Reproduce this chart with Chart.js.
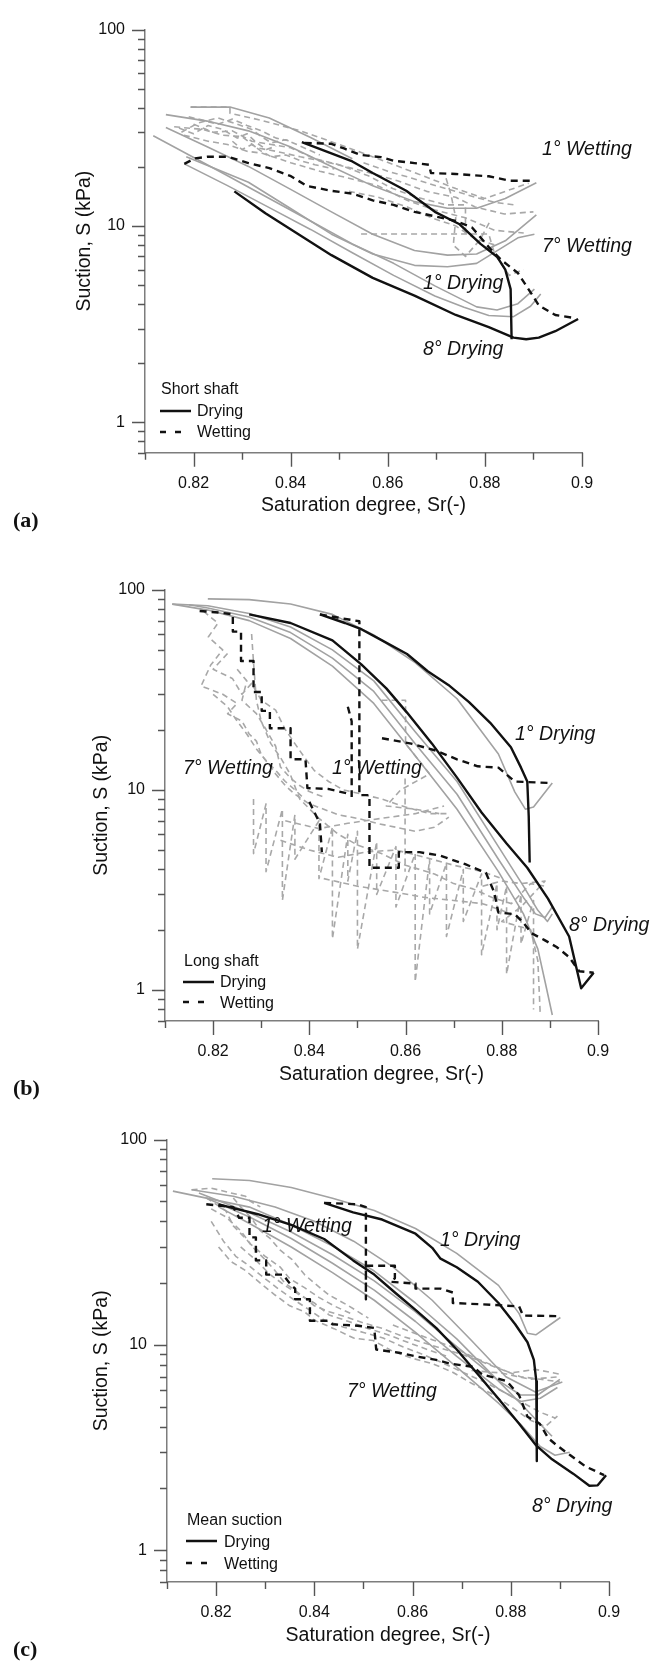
<!DOCTYPE html>
<html>
<head>
<meta charset="utf-8">
<script src="https://cdn.jsdelivr.net/npm/chart.js@4.4.1/dist/chart.umd.min.js"></script>
<style>
  html,body{margin:0;padding:0;background:#fff;}
  #page{position:relative;width:650px;height:1668px;overflow:hidden;background:#fff;font-family:"Liberation Sans",Arial,sans-serif;color:#111;}
  canvas{position:absolute;left:0;}
  .ann{position:absolute;font-style:italic;font-size:19.5px;white-space:nowrap;transform:translateY(-50%);color:#111;}
  .leg{position:absolute;font-size:16px;white-space:nowrap;transform:translateY(-50%);color:#111;}
  .sample{position:absolute;width:32px;height:6px;transform:translateY(-50%);}
  .plab{position:absolute;font-family:"Liberation Serif","DejaVu Serif",serif;font-weight:bold;font-size:22px;transform:translateY(-50%);color:#111;}
</style>
</head>
<body>
<div id="page">
  <canvas id="ca" width="650" height="530" style="top:0px"></canvas>
  <canvas id="cb" width="650" height="540" style="top:560px"></canvas>
  <canvas id="cc" width="650" height="558" style="top:1110px"></canvas>

  <!-- panel a -->
  <div class="ann" style="left:542px;top:148px">1° Wetting</div>
  <div class="ann" style="left:542px;top:245px">7° Wetting</div>
  <div class="ann" style="left:423px;top:282px">1° Drying</div>
  <div class="ann" style="left:423px;top:348px">8° Drying</div>
  <div class="leg" style="left:161px;top:389px">Short shaft</div>
  <svg class="sample" style="left:160px;top:411px" viewBox="0 0 32 6"><line x1="0" y1="3" x2="31" y2="3" stroke="#111" stroke-width="2.5"/></svg>
  <div class="leg" style="left:197px;top:411px">Drying</div>
  <svg class="sample" style="left:160px;top:432px" viewBox="0 0 32 6"><line x1="0" y1="3" x2="22" y2="3" stroke="#111" stroke-width="2.5" stroke-dasharray="6,9"/></svg>
  <div class="leg" style="left:197px;top:432px">Wetting</div>
  <div class="plab" style="left:13px;top:520px">(a)</div>

  <!-- panel b -->
  <div class="ann" style="left:515px;top:733px">1° Drying</div>
  <div class="ann" style="left:183px;top:767px">7° Wetting</div>
  <div class="ann" style="left:332px;top:767px">1° Wetting</div>
  <div class="ann" style="left:569px;top:924px">8° Drying</div>
  <div class="leg" style="left:184px;top:961px">Long shaft</div>
  <svg class="sample" style="left:183px;top:982px" viewBox="0 0 32 6"><line x1="0" y1="3" x2="31" y2="3" stroke="#111" stroke-width="2.5"/></svg>
  <div class="leg" style="left:220px;top:982px">Drying</div>
  <svg class="sample" style="left:183px;top:1002px" viewBox="0 0 32 6"><line x1="0" y1="3" x2="22" y2="3" stroke="#111" stroke-width="2.5" stroke-dasharray="6,9"/></svg>
  <div class="leg" style="left:220px;top:1003px">Wetting</div>
  <div class="plab" style="left:13px;top:1088px">(b)</div>

  <!-- panel c -->
  <div class="ann" style="left:262px;top:1225px">1° Wetting</div>
  <div class="ann" style="left:440px;top:1239px">1° Drying</div>
  <div class="ann" style="left:347px;top:1390px">7° Wetting</div>
  <div class="ann" style="left:532px;top:1505px">8° Drying</div>
  <div class="leg" style="left:187px;top:1520px">Mean suction</div>
  <svg class="sample" style="left:186px;top:1541px" viewBox="0 0 32 6"><line x1="0" y1="3" x2="31" y2="3" stroke="#111" stroke-width="2.5"/></svg>
  <div class="leg" style="left:224px;top:1542px">Drying</div>
  <svg class="sample" style="left:186px;top:1563px" viewBox="0 0 32 6"><line x1="0" y1="3" x2="22" y2="3" stroke="#111" stroke-width="2.5" stroke-dasharray="6,9"/></svg>
  <div class="leg" style="left:224px;top:1564px">Wetting</div>
  <div class="plab" style="left:13px;top:1649px">(c)</div>
</div>
<script>
// ---------- ticks ----------
const xTickVals = [0.81,0.82,0.83,0.84,0.85,0.86,0.87,0.88,0.89,0.9];
const xTickLabels = ['','0.82','','0.84','','0.86','','0.88','','0.9'];
const yTickVals = [0.7,0.8,0.9,1,2,3,4,5,6,7,8,9,10,20,30,40,50,60,70,80,90,100];
const yMajorVals = [1,10,100];

// ---------- panel (a) short shaft: [Sr, S kPa] ----------
const aDrying1 = [[0.8423,26.7],[0.8527,21.3],[0.8569,18.6],[0.8638,15.1],[0.8697,11.8],[0.8748,10.2],[0.8791,8.1],[0.8825,6.97],[0.8842,5.99],[0.8853,4.77],[0.8855,2.65]];
const aDrying8 = [[0.8284,15.0],[0.8348,11.6],[0.8416,9.08],[0.8484,7.10],[0.8569,5.44],[0.8655,4.42],[0.8740,3.52],[0.8808,3.05],[0.8859,2.70],[0.8885,2.65],[0.8911,2.70],[0.8945,2.91],[0.8992,3.36]];
const aWetting1 = [[0.8429,26.5],[0.8484,26.2],[0.8510,24.8],[0.8544,23.0],[0.8586,22.4],[0.8612,21.5],[0.8655,20.9],[0.8685,20.5],[0.8689,18.6],[0.8740,18.4],[0.8808,17.9],[0.8851,17.0],[0.8902,17.0]];
const aWetting7 = [[0.8181,20.7],[0.8203,22.1],[0.8228,22.5],[0.8271,22.5],[0.8313,20.9],[0.8356,19.7],[0.8399,18.0],[0.8433,16.0],[0.8484,15.1],[0.8527,14.6],[0.8569,13.5],[0.8612,12.8],[0.8655,11.8],[0.8697,11.2],[0.8740,10.6],[0.8774,9.8],[0.8808,7.8],[0.8834,6.7],[0.8868,5.76],[0.8894,4.59],[0.8911,3.94],[0.8945,3.52],[0.8987,3.39]];
const aGrayDry = [
  [[0.8143,36.9],[0.8228,34.2],[0.8313,30.5],[0.8399,25.3],[0.8484,20.1],[0.8569,16.0],[0.8655,13.3],[0.8723,12.3],[0.8783,12.3],[0.8842,13.8],[0.8906,16.6]],
  [[0.8194,40.3],[0.8275,40.3],[0.8356,35.5],[0.8441,28.2],[0.8527,22.0]],
  [[0.8143,31.7],[0.8228,25.3],[0.8313,20.1],[0.8399,15.4],[0.8484,11.8],[0.8569,9.08],[0.8655,7.5],[0.8723,7.1],[0.8783,7.2],[0.8842,8.4],[0.8906,11.4]],
  [[0.8185,22.5],[0.8313,16.7],[0.8399,12.3],[0.8484,9.08],[0.8569,7.2],[0.8655,6.3],[0.8723,6.2],[0.8783,6.45],[0.8868,8.7],[0.8902,9.08]],
  [[0.8117,28.8],[0.8185,23.4],[0.8271,17.96],[0.8356,13.8],[0.8441,10.6],[0.8527,8.1],[0.8612,6.45],[0.8697,4.95],[0.8783,3.87],[0.8825,3.73],[0.8868,4.02],[0.8902,4.77]],
  [[0.8181,20.7],[0.8271,16.0],[0.8356,12.4],[0.8441,9.6],[0.8527,7.3],[0.8612,5.6],[0.8697,4.4],[0.8757,3.85],[0.8808,3.5],[0.8859,3.45],[0.8894,3.9],[0.8915,4.5]]
];
const aGrayWet = [
  [[0.8194,40.3],[0.8275,40.3],[0.8275,37.5],[0.8340,34.5],[0.8420,30.5],[0.8500,26.0],[0.8580,22.0],[0.8660,18.5],[0.8740,15.5],[0.8800,13.8],[0.8890,16.5]],
  [[0.8160,32.0],[0.8220,31.0],[0.8260,29.0],[0.8300,28.5],[0.8330,25.0],[0.8370,24.0],[0.8420,22.5],[0.8480,21.0],[0.8550,19.0],[0.8620,17.0],[0.8680,15.0],[0.8740,14.0],[0.8780,12.5],[0.8840,11.5],[0.8900,11.8]],
  [[0.8180,29.0],[0.8230,27.0],[0.8270,26.0],[0.8310,24.0],[0.8340,23.5],[0.8400,21.0],[0.8460,19.0],[0.8520,17.5],[0.8580,16.0],[0.8640,13.5],[0.8700,12.0],[0.8760,11.0],[0.8820,9.5],[0.8880,9.2]],
  [[0.8200,33.0],[0.8240,30.0],[0.8280,30.5],[0.8320,27.0],[0.8360,26.0],[0.8400,25.0],[0.8450,22.0],[0.8500,20.5],[0.8560,18.0],[0.8610,15.5],[0.8660,14.0],[0.8720,12.8],[0.8760,12.8],[0.8760,8.8]],
  [[0.8545,9.1],[0.8808,9.1],[0.8820,7.2],[0.8850,5.6],[0.8880,6.0]],
  [[0.8175,30.0],[0.8210,33.5],[0.8250,35.5],[0.8290,33.0],[0.8320,31.0],[0.8340,28.5],[0.8360,26.5],[0.8390,27.5],[0.8420,25.5],[0.8460,23.0]],
  [[0.8720,17.5],[0.8730,14.5],[0.8740,11.0],[0.8735,8.0],[0.8760,7.0],[0.8790,8.5],[0.8810,10.5]],
  [[0.8170,31.5],[0.8200,29.5],[0.8230,32.5],[0.8260,31.0],[0.8290,28.0],[0.8310,29.5],[0.8330,26.5],[0.8350,24.5],[0.8370,25.5]],
  [[0.8190,36.0],[0.8220,34.5],[0.8250,33.0],[0.8280,35.0],[0.8310,32.5],[0.8340,30.5],[0.8370,28.0],[0.8400,27.0]],
  [[0.8280,27.0],[0.8300,24.5],[0.8320,26.0],[0.8340,24.0],[0.8360,22.5],[0.8390,23.0],[0.8420,21.5],[0.8450,20.5],[0.8490,19.5]],
  [[0.8550,21.0],[0.8600,19.0],[0.8650,17.5],[0.8700,16.0],[0.8740,15.0],[0.8780,14.0],[0.8820,13.2],[0.8860,12.8]],
  [[0.8520,15.0],[0.8580,14.0],[0.8640,12.5],[0.8690,11.0],[0.8740,10.0],[0.8780,8.6],[0.8820,8.0]]
];

// ---------- panel (b) long shaft ----------
const bDrying1 = [[0.8422,75.2],[0.8474,68.1],[0.8508,63.4],[0.8551,55.8],[0.8603,47.7],[0.8646,39.1],[0.8689,33.4],[0.8732,27.4],[0.8776,21.6],[0.8819,16.3],[0.8840,12.9],[0.8853,11.0],[0.8856,7.4],[0.8858,4.33]];
const bDrying8 = [[0.8275,75.2],[0.8361,68.1],[0.8448,55.8],[0.8508,42.3],[0.8560,32.1],[0.8603,24.3],[0.8655,17.0],[0.8707,11.5],[0.8758,7.7],[0.8810,5.39],[0.8853,4.08],[0.8896,2.86],[0.8940,1.85],[0.8965,1.02],[0.8991,1.22]];
const bWetting1 = [[0.8422,75.2],[0.8482,70.9],[0.8504,69.5],[0.8504,24.3],[0.8504,9.4],[0.8525,9.4],[0.8525,4.08],[0.8586,4.08],[0.8586,4.88],[0.8629,4.88],[0.8672,4.69],[0.8724,4.25],[0.8767,3.85],[0.8784,3.09],[0.8793,2.44],[0.8827,2.39],[0.8845,2.17],[0.8862,1.92],[0.8888,1.78],[0.8914,1.64],[0.8940,1.46],[0.8961,1.24],[0.8991,1.22]];
const bWetting1b = [[0.8551,18.1],[0.8612,17.0],[0.8663,15.7],[0.8707,14.2],[0.8750,13.1],[0.8793,12.9],[0.8827,11.0],[0.8905,10.8]];
const bWetting1c = [[0.8480,26.0],[0.8488,22.0],[0.8488,9.2]];
const bWetting7 = [[0.8172,78.2],[0.8215,76.7],[0.8241,75.2],[0.8241,61.7],[0.8258,61.7],[0.8258,44.0],[0.8284,44.0],[0.8284,30.8],[0.8301,30.8],[0.8301,24.8],[0.8318,24.8],[0.8318,20.3],[0.8361,20.3],[0.8361,14.2],[0.8392,14.2],[0.8396,10.2],[0.8439,10.1],[0.8478,9.6]];
const bWetting7b = [[0.8400,8.7],[0.8422,6.8],[0.8426,4.88]];
const bGrayDry = [
  [[0.8189,89.9],[0.8275,89.1],[0.8361,84.7],[0.8448,75.2],[0.8534,59.3],[0.8620,43.2],[0.8707,28.5],[0.8793,15.1],[0.8827,9.77],[0.8849,8.0],[0.8866,8.2],[0.8905,10.8]],
  [[0.8115,84.6],[0.8189,83],[0.8275,76],[0.8361,65],[0.8448,50],[0.8534,35],[0.8620,19.5],[0.8707,11],[0.8793,5.2],[0.8845,3.3],[0.8875,2.5],[0.8895,2.2],[0.8905,2.4]],
  [[0.8150,84],[0.8189,81],[0.8275,73],[0.8361,61],[0.8448,45.5],[0.8534,31],[0.8620,17],[0.8707,9.5],[0.8793,4.5],[0.8845,2.9],[0.8870,2.4],[0.8890,2.3],[0.8905,2.6]],
  [[0.8115,84.6],[0.8189,79],[0.8275,70],[0.8361,57],[0.8448,41.5],[0.8534,27],[0.8620,14.8],[0.8707,8],[0.8793,3.9],[0.8845,2.4],[0.8875,1.6],[0.8890,1.1],[0.8905,0.75]]
];
const bGrayWet = [
  [[0.8284,9],[0.8284,4.8],[0.8310,8.5],[0.8310,3.9],[0.8344,8],[0.8344,2.8],[0.8370,7.5],[0.8370,4.5],[0.8420,7],[0.8420,3.6],[0.8448,6.5],[0.8448,1.8],[0.8480,6],[0.8480,3.5],[0.8500,6.2],[0.8500,1.6],[0.8540,5.5],[0.8540,3.0],[0.8580,5.2],[0.8580,2.6],[0.8620,4.8],[0.8620,1.1],[0.8650,4.5],[0.8650,2.4],[0.8685,4.3],[0.8685,1.85],[0.8720,4.0],[0.8720,2.2],[0.8758,3.8],[0.8758,1.5],[0.8790,3.4],[0.8790,2.0],[0.8810,3.3],[0.8810,1.2],[0.8840,3.0],[0.8840,1.7],[0.8866,2.8],[0.8866,0.8]],
  [[0.8180,78],[0.8210,68],[0.8190,58],[0.8220,50],[0.8195,42],[0.8175,33],[0.8220,30],[0.8250,27],[0.8230,24],[0.8260,22],[0.8275,19],[0.8290,17.5],[0.8300,15],[0.8320,13],[0.8330,12],[0.8350,10.5],[0.8370,9.5],[0.8400,8.5],[0.8430,8],[0.8460,7.5],[0.8500,7.2],[0.8540,6.8],[0.8580,6.5],[0.8620,6.2],[0.8660,6.5],[0.8690,7.3]],
  [[0.8280,60],[0.8285,40],[0.8290,28],[0.8300,22],[0.8320,17],[0.8340,14.5],[0.8360,12],[0.8380,9],[0.8420,7.2],[0.8460,6],[0.8500,5.3],[0.8550,4.8],[0.8600,4.2],[0.8660,3.8],[0.8700,3.4],[0.8740,3.2],[0.8780,2.9],[0.8820,2.7],[0.8860,3.4],[0.8890,3.3]],
  [[0.8550,28],[0.8600,28],[0.8600,17],[0.8650,12],[0.8590,10],[0.8560,8.3],[0.8620,8.0],[0.8670,7.6]],
  [[0.8599,11.4],[0.8599,3.9]],
  [[0.8230,48],[0.8200,40],[0.8240,36],[0.8260,30],[0.8280,34],[0.8300,28],[0.8330,25],[0.8350,20],[0.8370,17],[0.8390,14.5],[0.8410,12.5],[0.8440,11],[0.8470,10],[0.8510,9.5],[0.8550,9],[0.8600,8.2],[0.8650,7.6],[0.8690,7.6]],
  [[0.8760,3.3],[0.8800,3.5],[0.8840,3.4],[0.8890,3.5],[0.8840,2.6],[0.8800,2.2],[0.8860,2.0],[0.8875,1.4],[0.8880,0.75]],
  [[0.8350,7.0],[0.8420,6.4],[0.8480,6.8],[0.8550,7.2],[0.8620,7.6],[0.8680,8.3]],
  [[0.8340,5.6],[0.8400,5.0],[0.8460,4.6],[0.8520,4.9],[0.8580,5.0],[0.8640,4.6],[0.8700,4.2],[0.8760,3.9],[0.8800,3.6]],
  [[0.8430,3.6],[0.8500,3.3],[0.8570,3.1],[0.8640,2.9],[0.8700,2.8],[0.8760,2.7],[0.8820,2.4]],
  [[0.8200,30],[0.8230,26],[0.8250,22],[0.8270,19],[0.8290,16],[0.8310,14],[0.8330,12.5],[0.8350,11],[0.8370,10],[0.8390,9]],
  [[0.8250,40],[0.8270,35],[0.8260,28],[0.8290,24],[0.8310,20],[0.8330,16.5],[0.8340,13],[0.8360,11.5],[0.8380,10.5],[0.8400,9.8],[0.8430,9.2]]
];

// ---------- panel (c) mean suction ----------
const cDrying1 = [[0.8420,49.2],[0.8479,44.2],[0.8538,40.8],[0.8606,34.8],[0.8640,29.7],[0.8657,26.3],[0.8690,23.9],[0.8733,20.3],[0.8775,16.0],[0.8809,12.6],[0.8834,10.3],[0.8847,8.46],[0.8852,6.66],[0.8853,2.72]];
const cDrying8 = [[0.8205,48.4],[0.8285,43.3],[0.8353,38.4],[0.8420,32.8],[0.8479,25.8],[0.8522,22.0],[0.8564,18.0],[0.8606,14.8],[0.8648,12.1],[0.8690,9.5],[0.8733,7.2],[0.8775,5.46],[0.8817,4.13],[0.8851,3.25],[0.8884,2.77],[0.8927,2.36],[0.8960,2.06],[0.8977,2.07],[0.8994,2.32]];
const cWetting1 = [[0.8420,49.2],[0.8488,48.4],[0.8505,46.9],[0.8505,16.7],[0.8505,24.3],[0.8564,24.3],[0.8564,21.1],[0.8555,20.3],[0.8606,19.9],[0.8606,18.8],[0.8657,18.8],[0.8682,18.0],[0.8682,16.0],[0.8758,15.7],[0.8817,15.4],[0.8825,13.9],[0.8901,13.8]];
const cWetting7 = [[0.8180,48.4],[0.8235,46.9],[0.8247,41.6],[0.8268,41.6],[0.8268,33.4],[0.8281,33.4],[0.8281,25.8],[0.8302,25.8],[0.8302,22.0],[0.8336,22.0],[0.8353,19.5],[0.8361,18.8],[0.8361,16.7],[0.8391,16.7],[0.8391,13.1],[0.8429,13.1],[0.8437,12.6],[0.8488,12.4],[0.8522,12.1],[0.8526,9.5],[0.8572,9.16],[0.8606,8.8],[0.8648,8.46],[0.8674,8.13],[0.8724,7.81],[0.8741,7.2],[0.8792,6.66],[0.8817,5.68],[0.8834,4.47],[0.8859,4.13],[0.8876,3.52],[0.8893,3.25],[0.8922,2.89],[0.8952,2.56],[0.8990,2.32]];
const cGrayDry = [
  [[0.8192,64.5],[0.8268,63.2],[0.8353,58.4],[0.8437,51.8],[0.8522,45.1],[0.8606,36.9],[0.8690,27.9],[0.8775,19.5],[0.8817,14.2],[0.8834,11.4],[0.8851,11.2],[0.8901,13.6]],
  [[0.8112,56.1],[0.8268,46.9],[0.8353,38.4],[0.8437,30.3],[0.8522,22.9],[0.8606,16.0],[0.8690,10.7],[0.8775,6.66],[0.8825,5.04],[0.8859,4.13],[0.8884,3.59]],
  [[0.8165,55],[0.8268,44],[0.8353,35.5],[0.8437,27.5],[0.8522,20.5],[0.8606,14.5],[0.8690,9.8],[0.8775,6.7],[0.8820,5.7],[0.8855,5.7],[0.8900,6.8]],
  [[0.8180,52],[0.8268,42],[0.8353,33],[0.8437,25],[0.8522,18.5],[0.8606,13],[0.8690,8.8],[0.8775,6.1],[0.8820,5.3],[0.8860,5.5],[0.8895,6.2]],
  [[0.8205,47],[0.8268,39],[0.8353,30],[0.8437,22.5],[0.8522,16.5],[0.8606,11.5],[0.8690,7.8],[0.8775,5.2],[0.8820,4.1],[0.8860,3.2],[0.8890,2.9],[0.8920,3.0]],
  [[0.8150,57],[0.8235,53],[0.8320,47],[0.8400,40],[0.8480,32],[0.8560,24],[0.8640,16.5],[0.8720,10.5],[0.8790,7.0],[0.8850,5.9],[0.8905,6.6]]
];
const cGrayWet = [
  [[0.8180,52],[0.8220,45],[0.8235,38],[0.8260,33],[0.8280,29],[0.8300,26],[0.8320,23],[0.8340,20],[0.8360,18.5],[0.8380,17],[0.8400,15.5],[0.8430,14.5],[0.8460,13.8],[0.8500,12.8],[0.8540,12],[0.8580,11],[0.8620,10.3],[0.8660,9.6],[0.8700,9],[0.8740,8.3],[0.8780,7.6],[0.8820,7],[0.8860,6.8],[0.8900,6.6]],
  [[0.8190,40],[0.8215,32],[0.8240,27],[0.8270,24],[0.8300,21],[0.8330,18.5],[0.8360,16.5],[0.8390,14.8],[0.8420,13.2],[0.8460,12.2],[0.8500,11.5],[0.8540,10.8],[0.8580,9.8],[0.8620,9],[0.8660,8.2],[0.8700,7.4],[0.8740,6.7],[0.8780,6],[0.8820,5.3],[0.8860,4.7],[0.8890,4.4]],
  [[0.8205,30],[0.8230,25.5],[0.8260,23],[0.8290,20],[0.8320,17.5],[0.8350,15.5],[0.8380,14.5],[0.8400,13.2],[0.8440,12],[0.8480,10.8],[0.8520,10.5],[0.8560,9.3],[0.8600,8.6],[0.8640,8.1],[0.8680,7.4],[0.8720,6.5],[0.8760,5.8],[0.8800,5],[0.8840,4.3],[0.8870,4.0],[0.8895,4.5]],
  [[0.8235,52],[0.8250,47],[0.8270,42],[0.8290,36],[0.8310,33],[0.8330,29],[0.8355,26],[0.8380,22],[0.8400,20],[0.8430,17.5],[0.8470,15.5],[0.8510,13.5]],
  [[0.8720,7.5],[0.8780,7.3],[0.8840,6.8],[0.8900,7.0]],
  [[0.8150,57],[0.8190,58],[0.8230,55],[0.8260,53],[0.8270,50],[0.8290,47]],
  [[0.8190,46],[0.8220,42],[0.8250,36],[0.8270,31],[0.8300,27],[0.8330,24],[0.8350,21],[0.8380,19],[0.8410,17],[0.8440,15.5],[0.8480,14]],
  [[0.8250,30],[0.8280,26],[0.8310,22],[0.8340,19.5],[0.8370,17.5],[0.8400,16],[0.8430,14],[0.8470,13],[0.8510,12],[0.8550,11.2],[0.8590,10.3],[0.8630,9.5],[0.8670,8.8]],
  [[0.8560,12.5],[0.8600,11.5],[0.8640,10.6],[0.8680,9.8],[0.8720,8.8],[0.8760,8.0],[0.8800,7.3],[0.8850,7.6],[0.8900,7.2]]
];

// ---------- styling ----------
const STY = {
  blackDry:{borderColor:'#111',borderWidth:2.4,borderDash:[]},
  blackWet:{borderColor:'#111',borderWidth:2.4,borderDash:[7,5]},
  grayDry:{borderColor:'#a2a2a2',borderWidth:1.6,borderDash:[]},
  grayWet:{borderColor:'#a8a8a8',borderWidth:1.6,borderDash:[6,4]}
};
function ds(points, kind){
  return Object.assign({data:points.map(p=>({x:p[0],y:p[1]})),showLine:true,pointRadius:0,fill:false,tension:0,borderJoinStyle:'round'},STY[kind]);
}
const FONT = '"Liberation Sans", Arial, sans-serif';

const tickMarks = {
  id:'tickMarks',
  afterDraw(chart){
    const {ctx, chartArea:a, scales:{x,y}} = chart;
    ctx.save();
    ctx.strokeStyle = '#555'; ctx.lineWidth = 1.4; ctx.setLineDash([]);
    ctx.beginPath();
    yTickVals.forEach(v=>{ const p = Math.round(y.getPixelForValue(v))+0.5; const L = yMajorVals.includes(v)?13:7; ctx.moveTo(a.left-L,p); ctx.lineTo(a.left,p); });
    xTickVals.forEach((v,i)=>{ const p = Math.round(x.getPixelForValue(v))+0.5; const L = xTickLabels[i]?14:7; ctx.moveTo(p,a.bottom); ctx.lineTo(p,a.bottom+L); });
    ctx.stroke(); ctx.restore();
  }
};

function makePanel(id, g, datasets){
  new Chart(document.getElementById(id), {
    type:'scatter',
    data:{datasets},
    options:{
      responsive:false, animation:false, events:[],
      layout:{padding:{left:0,right:650-g.right,top:g.top,bottom:0}},
      plugins:{legend:{display:false},tooltip:{enabled:false}},
      scales:{
        x:{type:'linear',min:0.81,max:0.9,
          afterBuildTicks:s=>{s.ticks = xTickVals.map(v=>({value:v}));},
          afterFit:s=>{s.height = g.h - g.bottom;},
          grid:{display:false,drawTicks:false},
          border:{display:true,color:'#7d7d7d',width:1.5},
          ticks:{autoSkip:false,maxRotation:0,minRotation:0,padding:21,color:'#111',font:{family:FONT,size:16},callback:(v,i)=>xTickLabels[i]},
          title:{display:true,text:'Saturation degree, Sr(-)',color:'#111',font:{family:FONT,size:19.5},padding:{top:0,bottom:g.xtb}}
        },
        y:{type:'logarithmic',min:0.7,max:100,
          afterBuildTicks:s=>{s.ticks = yTickVals.map(v=>({value:v}));},
          afterFit:s=>{s.width = g.left;},
          grid:{display:false,drawTicks:false},
          border:{display:true,color:'#7d7d7d',width:1.5},
          ticks:{autoSkip:false,padding:20,color:'#111',font:{family:FONT,size:16},callback:v=>yMajorVals.includes(v)?String(v):''},
          title:{display:true,text:'Suction, S (kPa)',color:'#111',font:{family:FONT,size:19.5},padding:{top:g.ytp,bottom:0}}
        }
      }
    },
    plugins:[tickMarks]
  });
}

function build(blackDry, blackWet, grayDry, grayWet){
  const out = [];
  blackDry.forEach(s=>out.push(ds(s,'blackDry')));
  blackWet.forEach(s=>out.push(ds(s,'blackWet')));
  grayDry.forEach(s=>out.push(ds(s,'grayDry')));
  grayWet.forEach(s=>out.push(ds(s,'grayWet')));
  return out;
}

makePanel('ca', {left:145,right:582,top:15.7,bottom:452.7,h:530,xtb:12.3,ytp:73.3},
  build([aDrying1,aDrying8],[aWetting1,aWetting7],aGrayDry,aGrayWet));
makePanel('cb', {left:165,right:598,top:29.5,bottom:461,h:540,xtb:13.3,ytp:90.3},
  build([bDrying1,bDrying8],[bWetting1,bWetting1b,bWetting1c,bWetting7,bWetting7b],bGrayDry,bGrayWet));
makePanel('cc', {left:167,right:609,top:28.6,bottom:472,h:558,xtb:20.3,ytp:90.3},
  build([cDrying1,cDrying8],[cWetting1,cWetting7],cGrayDry,cGrayWet));
</script>
</body>
</html>
